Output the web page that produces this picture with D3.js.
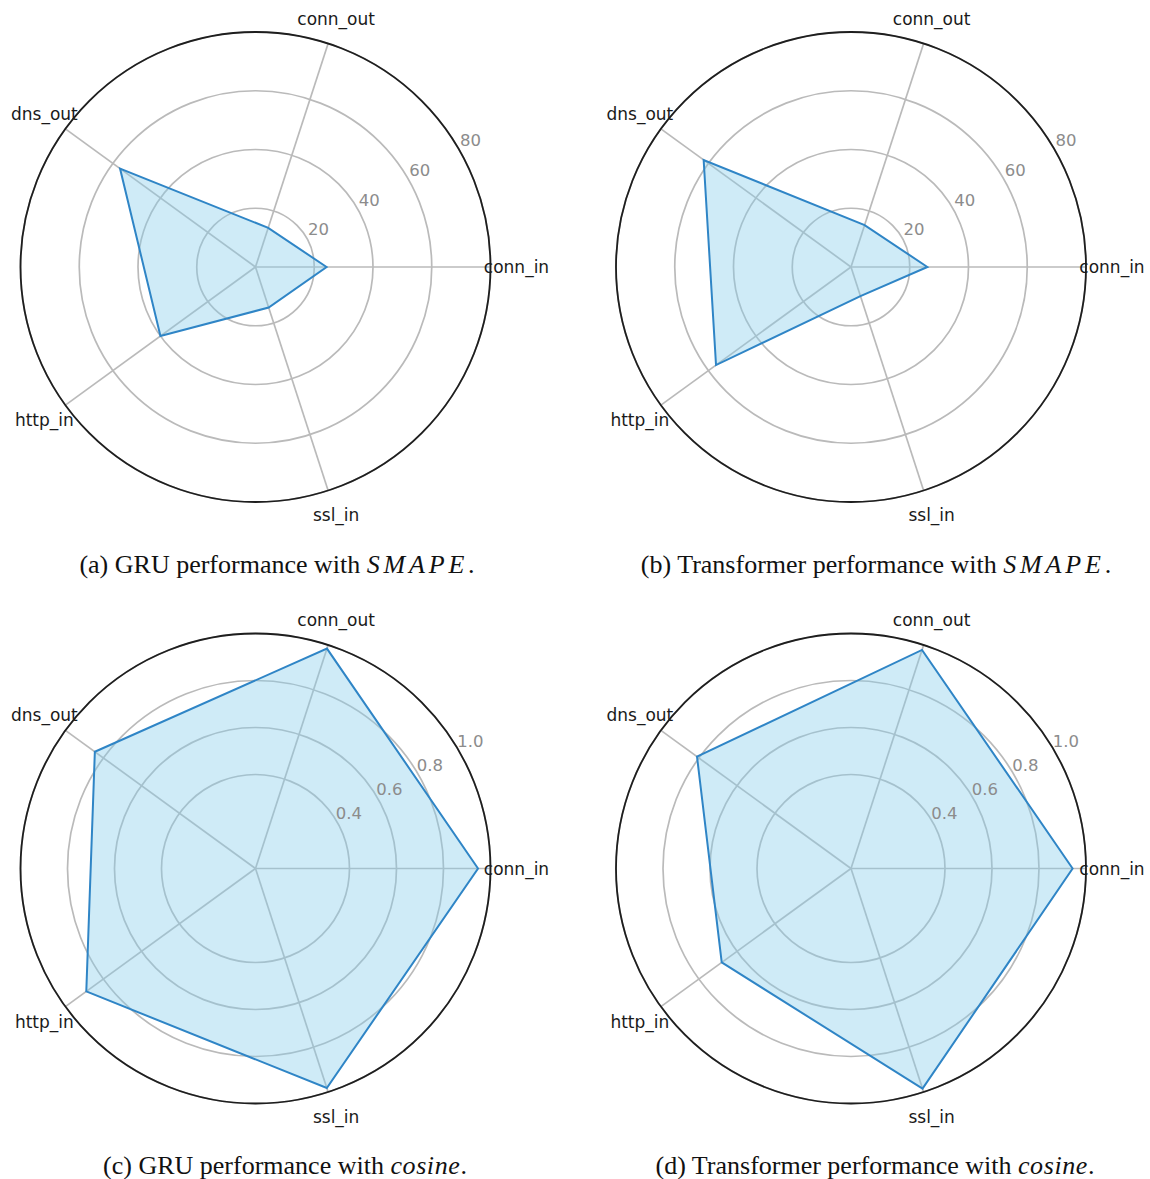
<!DOCTYPE html>
<html>
<head>
<meta charset="utf-8">
<script src="https://cdn.jsdelivr.net/npm/d3@7"></script>
<style>
  html, body { margin: 0; padding: 0; background: #ffffff; }
  svg { display: block; }
</style>
</head>
<body>
<svg id="chart" width="1150" height="1179"></svg>
<script>
// ---- data ----
const categories = ["conn_in", "conn_out", "dns_out", "http_in", "ssl_in"];

const smapeGRU         = [24.2, 14.0, 57.0, 40.0, 14.5];
const smapeTransformer = [26.0, 15.0, 62.0, 56.8, 10.4];
const cosineGRU         = [0.947, 0.984, 0.845, 0.89, 0.982];
const cosineTransformer = [0.943, 0.978, 0.81, 0.68, 0.985];

const smapeTicks  = [20, 40, 60, 80];
const cosineTicks = [0.4, 0.6, 0.8, 1.0];
const smapeTickLabels  = ["20", "40", "60", "80"];
const cosineTickLabels = ["0.4", "0.6", "0.8", "1.0"];
const smapeMax = 80;
const cosineMax = 1.0;

const captionPrefixes = ["(a) GRU performance with ", "(b) Transformer performance with ",
                         "(c) GRU performance with ", "(d) Transformer performance with "];
const captionMetrics  = ["SMAPE", "SMAPE", "cosine", "cosine"];

// ---- layout ----
const R = 235;
const panels = [
  { values: smapeGRU,         ticks: smapeTicks,  labels: smapeTickLabels,  max: smapeMax,  cx: 255.5, cy: 267,   capX: 277, capY: 573 },
  { values: smapeTransformer, ticks: smapeTicks,  labels: smapeTickLabels,  max: smapeMax,  cx: 851,   cy: 267,   capX: 876, capY: 573 },
  { values: cosineGRU,        ticks: cosineTicks, labels: cosineTickLabels, max: cosineMax, cx: 255.5, cy: 868.5, capX: 285, capY: 1174 },
  { values: cosineTransformer,ticks: cosineTicks, labels: cosineTickLabels, max: cosineMax, cx: 851,   cy: 868.5, capX: 875, capY: 1174 }
];

const svg = d3.select("#chart");
const n = categories.length;
// matplotlib angle (ccw from east) -> d3 radial angle (cw from north)
const angleScale = d3.scaleLinear().domain([0, n]).range([Math.PI / 2, Math.PI / 2 - 2 * Math.PI]);

const gridColor = "#bababa";
const lineColor = "#2f85c6";
const fillColor = "#87ceeb";

panels.forEach((p, pi) => {
  const r = d3.scaleLinear().domain([0, p.max]).range([0, R]);
  const g = svg.append("g").attr("transform", `translate(${p.cx},${p.cy})`);

  // grid circles
  g.selectAll("circle.grid").data(p.ticks).join("circle")
    .attr("class", "grid")
    .attr("r", d => r(d))
    .attr("fill", "none")
    .attr("stroke", gridColor)
    .attr("stroke-width", 1.7);

  // spokes
  g.selectAll("line.spoke").data(categories).join("line")
    .attr("class", "spoke")
    .attr("x1", 0).attr("y1", 0)
    .attr("x2", (d, i) => R * Math.sin(angleScale(i)))
    .attr("y2", (d, i) => -R * Math.cos(angleScale(i)))
    .attr("stroke", gridColor)
    .attr("stroke-width", 1.7);

  // data polygon
  const radial = d3.lineRadial()
    .angle((d, i) => angleScale(i))
    .radius(d => r(d))
    .curve(d3.curveLinearClosed);

  g.append("path")
    .attr("d", radial(p.values))
    .attr("fill", fillColor)
    .attr("fill-opacity", 0.4)
    .attr("stroke", "none");

  g.append("path")
    .attr("d", radial(p.values))
    .attr("fill", "none")
    .attr("stroke", lineColor)
    .attr("stroke-width", 2)
    .attr("stroke-linejoin", "miter");

  // outer spine
  g.append("circle")
    .attr("r", R)
    .attr("fill", "none")
    .attr("stroke", "#1e1e1e")
    .attr("stroke-width", 1.8);

  // radial tick labels
  const la = 30.5 * Math.PI / 180;
  g.selectAll("text.rtick").data(p.ticks).join("text")
    .attr("class", "rtick")
    .attr("x", d => (r(d) + 14.5) * Math.cos(la))
    .attr("y", d => -(r(d) + 14.5) * Math.sin(la))
    .attr("text-anchor", "middle")
    .attr("dominant-baseline", "central")
    .attr("font-family", "DejaVu Sans")
    .attr("font-size", 16.5)
    .attr("fill", "#8c8c8c")
    .text((d, i) => p.labels[i]);

  // category labels
  g.selectAll("text.cat").data(categories).join("text")
    .attr("class", "cat")
    .attr("x", (d, i) => (R + 26) * Math.sin(angleScale(i)))
    .attr("y", (d, i) => -(R + 26) * Math.cos(angleScale(i)))
    .attr("text-anchor", "middle")
    .attr("dominant-baseline", "central")
    .attr("font-family", "DejaVu Sans")
    .attr("font-size", 17)
    .attr("fill", "#1a1a1a")
    .text(d => d);

  // caption
  const cap = svg.append("text")
    .attr("x", p.capX)
    .attr("y", p.capY)
    .attr("text-anchor", "middle")
    .attr("font-family", "Liberation Serif")
    .attr("font-size", 26)
    .attr("fill", "#111");
  cap.append("tspan").text(captionPrefixes[pi]);
  cap.append("tspan").attr("font-style", "italic")
    .attr("letter-spacing", pi < 2 ? 3.8 : 0.6)
    .text(captionMetrics[pi]);
  cap.append("tspan").text(".");
});
</script>
</body>
</html>
